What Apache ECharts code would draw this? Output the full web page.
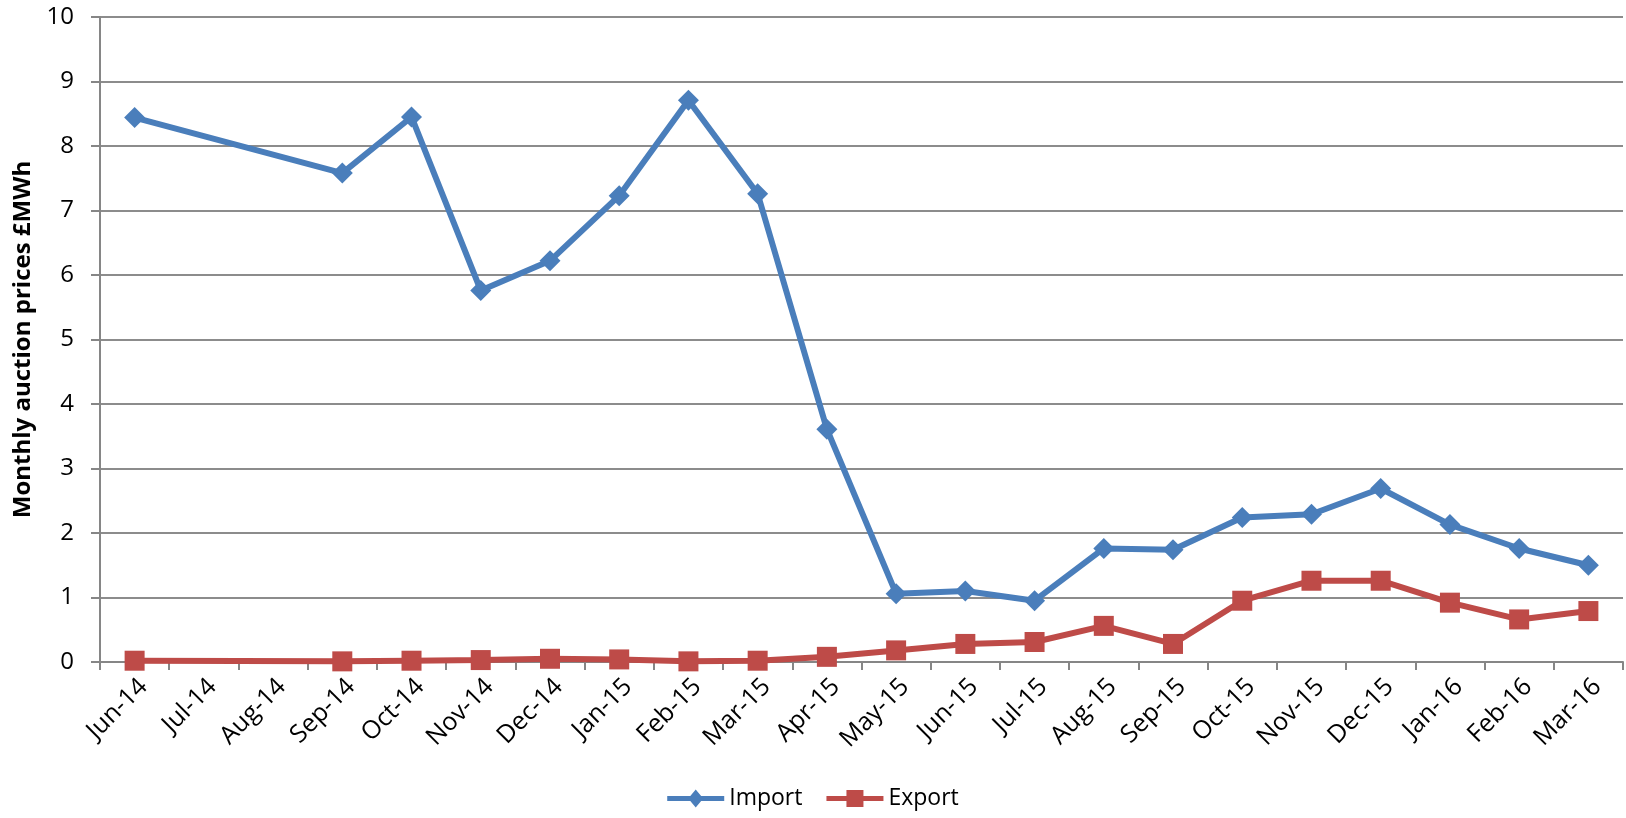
<!DOCTYPE html>
<html>
<head>
<meta charset="utf-8">
<script src="https://cdn.jsdelivr.net/npm/echarts@6/dist/echarts.min.js"></script>
<style>
  html, body { margin: 0; padding: 0; background: #fff; }
  #chart { width: 1626px; height: 818px; }
</style>
</head>
<body>
<div id="chart"></div>
<script>
// Monthly auction prices (£/MWh) for import and export capacity
const months = ['Jun-14', 'Jul-14', 'Aug-14', 'Sep-14', 'Oct-14', 'Nov-14', 'Dec-14', 'Jan-15',
  'Feb-15', 'Mar-15', 'Apr-15', 'May-15', 'Jun-15', 'Jul-15', 'Aug-15', 'Sep-15',
  'Oct-15', 'Nov-15', 'Dec-15', 'Jan-16', 'Feb-16', 'Mar-16'];

const importPrices = [8.44, null, null, 7.58, 8.45, 5.76, 6.22, 7.23, 8.71, 7.26, 3.61,
  1.06, 1.10, 0.95, 1.76, 1.74, 2.24, 2.29, 2.69, 2.13, 1.76, 1.50];

const exportPrices = [0.02, null, null, 0.01, 0.02, 0.03, 0.05, 0.04, 0.01, 0.02, 0.08,
  0.18, 0.28, 0.31, 0.56, 0.28, 0.95, 1.26, 1.26, 0.92, 0.66, 0.79];

const yTicks = { min: 0, max: 10, interval: 1 };

const font = '"Open Sans", "Liberation Sans", sans-serif';
const axisGrey = '#868686';
const chart = echarts.init(document.getElementById('chart'));

// legend icons: a thick line segment with the series marker in the middle
const importIcon = 'path://M0,6.5 L57,6.5 L57,11.5 L0,11.5 Z M21,9 L28.5,0 L36,9 L28.5,18 Z';
const exportIcon = 'path://M0,6.5 L57,6.5 L57,11.5 L0,11.5 Z M20,0.5 L37,0.5 L37,17.5 L20,17.5 Z';

chart.setOption({
  animation: false,
  backgroundColor: '#ffffff',
  textStyle: { fontFamily: font },
  grid: { left: 100, right: 3, top: 17, bottom: 156, containLabel: false },
  legend: {
    bottom: 3,
    left: 'center',
    itemWidth: 57,
    itemHeight: 18,
    itemGap: 24,
    textStyle: { fontFamily: font, fontSize: 23, color: '#000' },
    data: [
      { name: 'Import', icon: importIcon },
      { name: 'Export', icon: exportIcon }
    ]
  },
  xAxis: {
    type: 'category',
    data: months,
    boundaryGap: true,
    axisLine: { lineStyle: { color: axisGrey, width: 2 } },
    axisTick: { show: true, length: 8, inside: false, lineStyle: { color: axisGrey, width: 2 } },
    axisLabel: {
      rotate: 45,
      interval: 0,
      margin: 12,
      verticalAlign: 'top',
      fontSize: 25,
      color: '#000',
      fontFamily: font
    },
    splitLine: { show: false }
  },
  yAxis: {
    type: 'value',
    min: yTicks.min,
    max: yTicks.max,
    interval: yTicks.interval,
    name: 'Monthly auction prices £MWh',
    nameLocation: 'middle',
    nameGap: 57,
    nameRotate: 90,
    nameTextStyle: { fontSize: 24, fontWeight: 'bold', color: '#000', fontFamily: font },
    axisLine: { show: true, lineStyle: { color: axisGrey, width: 2 } },
    axisTick: { show: true, length: 9, lineStyle: { color: axisGrey, width: 2 } },
    axisLabel: { fontSize: 24, color: '#000', margin: 26, fontFamily: font },
    splitLine: { show: true, lineStyle: { color: '#8c8c8c', width: 2 } }
  },
  series: [
    {
      name: 'Import',
      type: 'line',
      data: importPrices,
      connectNulls: true,
      symbol: 'diamond',
      symbolSize: 21,
      color: '#4a7ebb',
      lineStyle: { color: '#4a7ebb', width: 6 },
      itemStyle: { color: '#4a7ebb' },
      z: 3
    },
    {
      name: 'Export',
      type: 'line',
      data: exportPrices,
      connectNulls: true,
      symbol: 'rect',
      symbolSize: 20,
      color: '#be4b48',
      lineStyle: { color: '#be4b48', width: 6 },
      itemStyle: { color: '#be4b48' },
      z: 4
    }
  ]
});
</script>
</body>
</html>
